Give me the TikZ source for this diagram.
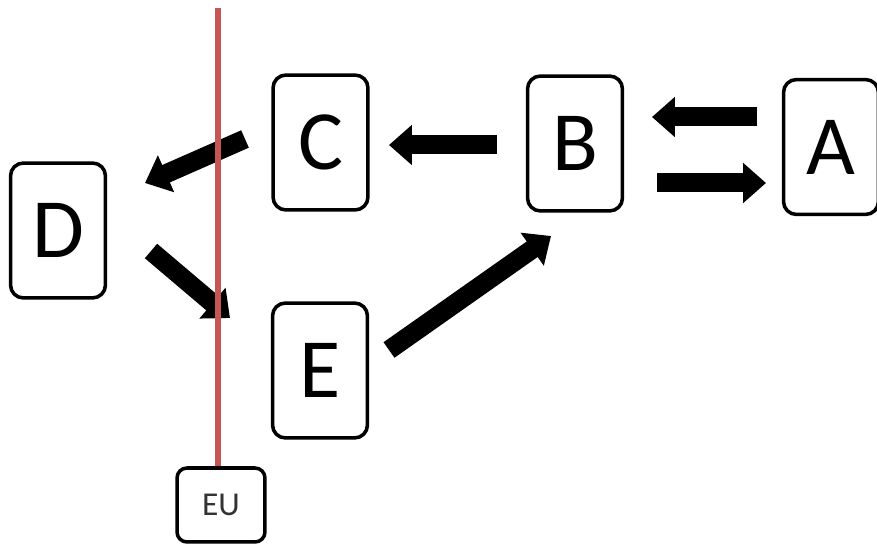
\documentclass[tikz,border=0pt]{standalone}
\usepackage{fontspec}
\setmainfont{Carlito}
\usetikzlibrary{arrows.meta}
\definecolor{eured}{RGB}{196,86,84}
\tikzset{
  letterbox/.style={draw=black, line width=2pt, rounded corners=0.26cm, fill=white,
    minimum width=1.9cm, minimum height=2.7cm, inner sep=0pt,
    font=\fontsize{48}{48}\selectfont},
  eubox/.style={draw=black, line width=2pt, rounded corners=0.2cm, fill=white,
    minimum width=1.76cm, minimum height=1.48cm, inner sep=0pt,
    font=\fontsize{19}{19}\selectfont, text=black!80},
  blockarrow/.style={line width=0.38cm, draw=black,
    -{Triangle[length=0.46cm, width=0.78cm]}},
  borderline/.style={draw=eured, line width=3.2pt}
}
\begin{document}
\begin{tikzpicture}[x=0.02cm, y=-0.02cm]
\useasboundingbox (0,0) rectangle (877,547);
\coordinate (top) at (218,8);
\node[eubox] (EU) at (221,505) {EU};
\node[letterbox] (A) at (831,147) {A};
\node[letterbox] (B) at (575,143.5) {B};
\node[letterbox] (C) at (320.5,142.5) {C};
\node[letterbox] (D) at (58,230.5) {D};
\node[letterbox] (E) at (320,370.5) {E};
% arrow end points
\coordinate (ab1) at (757,117); \coordinate (ab2) at (652,117);
\coordinate (ba1) at (657,183); \coordinate (ba2) at (766,183);
\coordinate (bc1) at (497,145); \coordinate (bc2) at (389,145);
\coordinate (cd1) at (245,139); \coordinate (cd2) at (145,183);
\coordinate (de1) at (151,251); \coordinate (de2) at (230,318);
\coordinate (eb1) at (389,350); \coordinate (eb2) at (551,236);
\draw[blockarrow] (ab1) -- (ab2);
\draw[blockarrow] (ba1) -- (ba2);
\draw[blockarrow] (bc1) -- (bc2);
\draw[blockarrow] (cd1) -- (cd2);
\draw[blockarrow] (de1) -- (de2);
\draw[blockarrow] (eb1) -- (eb2);
\draw[borderline] (top) -- (top |- EU.north);
\end{tikzpicture}
\end{document}
